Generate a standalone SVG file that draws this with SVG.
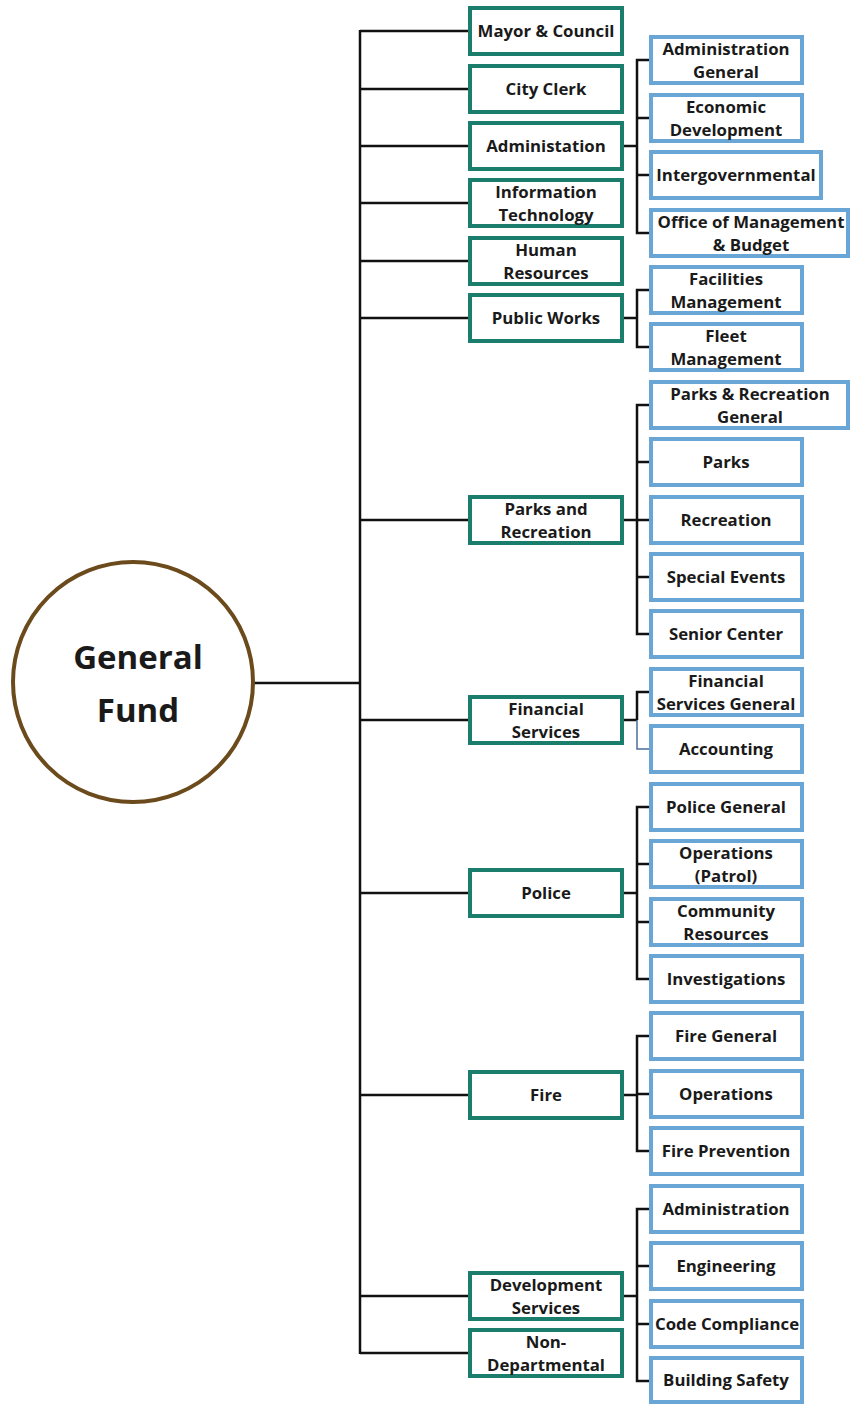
<svg xmlns="http://www.w3.org/2000/svg" width="850" height="1404" viewBox="0 0 850 1404">
<style>
.g rect{fill:#fff;stroke:#1b7d6b;stroke-width:4}
.b rect{fill:#fff;stroke:#69a5d5;stroke-width:4}
text{font-family:"Open Sans","Liberation Sans",sans-serif;font-weight:bold;font-size:16.8px;fill:#1a1a1a;text-anchor:middle}
.c line,.c path{stroke:#111;stroke-width:2.5;fill:none}
</style>
<rect width="850" height="1404" fill="#fff"/>
<g class="c" id="connectors">
<line x1="253" y1="683" x2="361" y2="683"/>
<line x1="360" y1="30" x2="360" y2="1354"/>
<path d="M360 31H470M360 89H470M360 146H470M360 203H470M360 261H470M360 318H470M360 520H470M360 720H470M360 893H470M360 1095H470M360 1296H470M360 1353H470"/>
<path d="M622 146H637M650 60H637V233H650M637 118H650M637 175H650"/>
<path d="M622 318H637M650 290H637V347H650"/>
<path d="M622 520H637M650 405H637V634H650M637 462H650M637 520H650M637 577H650"/>
<path d="M622 720H637M650 692H637V720"/>
<path d="M637 720V749H650" style="stroke:#4b6d9a;stroke-width:1.5"/>
<path d="M622 893H637M650 807H637V979H650M637 864H650M637 922H650"/>
<path d="M622 1095H637M650 1036H637V1151H650M637 1094H650"/>
<path d="M622 1296H637M650 1209H637V1381H650M637 1266H650M637 1324H650"/>
</g>
<g id="general-fund">
<circle cx="133" cy="682" r="120" fill="#fff" stroke="#6b4a1c" stroke-width="4"/>
<text x="138" y="669" style="font-size:33px">General</text>
<text x="138" y="722" style="font-size:33px">Fund</text>
</g>
<g class="g" id="mayor"><rect x="470" y="8" width="152" height="46"/><text x="546" y="37">Mayor &amp; Council</text></g>
<g class="g" id="city-clerk"><rect x="470" y="66" width="152" height="46"/><text x="546" y="95">City Clerk</text></g>
<g class="g" id="administation"><rect x="470" y="123" width="152" height="46"/><text x="546" y="152">Administation</text></g>
<g class="g" id="it"><rect x="470" y="180" width="152" height="46"/><text x="546" y="198">Information</text><text x="546" y="221">Technology</text></g>
<g class="g" id="hr"><rect x="470" y="238" width="152" height="46"/><text x="546" y="256">Human</text><text x="546" y="279">Resources</text></g>
<g class="g" id="public-works"><rect x="470" y="295" width="152" height="46"/><text x="546" y="324">Public Works</text></g>
<g class="g" id="parks-rec"><rect x="470" y="497" width="152" height="46"/><text x="546" y="515">Parks and</text><text x="546" y="538">Recreation</text></g>
<g class="g" id="financial"><rect x="470" y="697" width="152" height="46"/><text x="546" y="715">Financial</text><text x="546" y="738">Services</text></g>
<g class="g" id="police"><rect x="470" y="870" width="152" height="46"/><text x="546" y="899">Police</text></g>
<g class="g" id="fire"><rect x="470" y="1072" width="152" height="46"/><text x="546" y="1101">Fire</text></g>
<g class="g" id="dev-services"><rect x="470" y="1273" width="152" height="46"/><text x="546" y="1291">Development</text><text x="546" y="1314">Services</text></g>
<g class="g" id="non-dept"><rect x="470" y="1330" width="152" height="46"/><text x="546" y="1348">Non-</text><text x="546" y="1371">Departmental</text></g>
<g class="b" id="admin-general"><rect x="651" y="37" width="151" height="46"/><text x="726" y="55">Administration</text><text x="726" y="78">General</text></g>
<g class="b" id="econ-dev"><rect x="651" y="95" width="151" height="46"/><text x="726" y="113">Economic</text><text x="726" y="136">Development</text></g>
<g class="b" id="intergov"><rect x="651" y="152" width="170" height="46"/><text x="736" y="181">Intergovernmental</text></g>
<g class="b" id="omb"><rect x="651" y="210" width="197" height="46"/><text x="751" y="228">Office of Management</text><text x="751" y="251">&amp; Budget</text></g>
<g class="b" id="facilities"><rect x="651" y="267" width="151" height="46"/><text x="726" y="285">Facilities</text><text x="726" y="308">Management</text></g>
<g class="b" id="fleet"><rect x="651" y="324" width="151" height="46"/><text x="726" y="342">Fleet</text><text x="726" y="365">Management</text></g>
<g class="b" id="parks-general"><rect x="651" y="382" width="197" height="46"/><text x="750" y="400">Parks &amp; Recreation</text><text x="750" y="423">General</text></g>
<g class="b" id="parks"><rect x="651" y="439" width="151" height="46"/><text x="726" y="468">Parks</text></g>
<g class="b" id="recreation"><rect x="651" y="497" width="151" height="46"/><text x="726" y="526">Recreation</text></g>
<g class="b" id="special-events"><rect x="651" y="554" width="151" height="46"/><text x="726" y="583">Special Events</text></g>
<g class="b" id="senior-center"><rect x="651" y="611" width="151" height="46"/><text x="726" y="640">Senior Center</text></g>
<g class="b" id="fin-general"><rect x="651" y="669" width="151" height="46"/><text x="726" y="687">Financial</text><text x="726" y="710">Services General</text></g>
<g class="b" id="accounting"><rect x="651" y="726" width="151" height="46"/><text x="726" y="755">Accounting</text></g>
<g class="b" id="police-general"><rect x="651" y="784" width="151" height="46"/><text x="726" y="813">Police General</text></g>
<g class="b" id="patrol"><rect x="651" y="841" width="151" height="46"/><text x="726" y="859">Operations</text><text x="726" y="882">(Patrol)</text></g>
<g class="b" id="community"><rect x="651" y="899" width="151" height="46"/><text x="726" y="917">Community</text><text x="726" y="940">Resources</text></g>
<g class="b" id="investigations"><rect x="651" y="956" width="151" height="46"/><text x="726" y="985">Investigations</text></g>
<g class="b" id="fire-general"><rect x="651" y="1013" width="151" height="46"/><text x="726" y="1042">Fire General</text></g>
<g class="b" id="operations"><rect x="651" y="1071" width="151" height="46"/><text x="726" y="1100">Operations</text></g>
<g class="b" id="fire-prevention"><rect x="651" y="1128" width="151" height="46"/><text x="726" y="1157">Fire Prevention</text></g>
<g class="b" id="administration"><rect x="651" y="1186" width="151" height="46"/><text x="726" y="1215">Administration</text></g>
<g class="b" id="engineering"><rect x="651" y="1243" width="151" height="46"/><text x="726" y="1272">Engineering</text></g>
<g class="b" id="code-compliance"><rect x="651" y="1301" width="151" height="46"/><text x="727" y="1330">Code Compliance</text></g>
<g class="b" id="building-safety"><rect x="651" y="1358" width="151" height="44"/><text x="726" y="1386">Building Safety</text></g>
</svg>
